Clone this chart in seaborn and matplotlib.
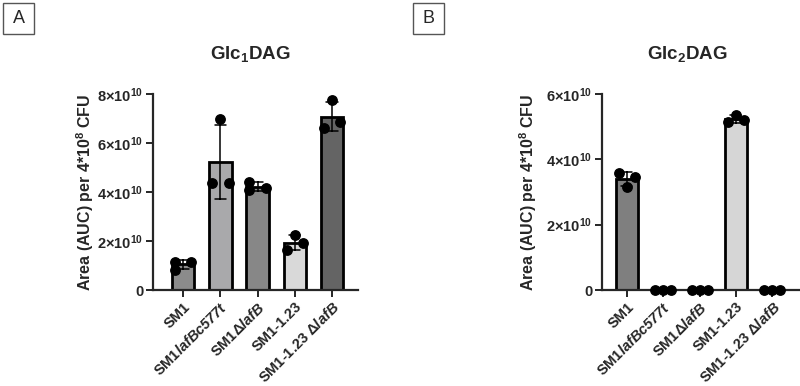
import pandas as pd
import matplotlib
matplotlib.use('Agg')
import matplotlib.pyplot as plt
from matplotlib.patches import Rectangle
import seaborn as sns
import numpy as np

groups = ['SM1', 'SM1lafBc577t', 'SM1ΔlafB', 'SM1-1.23', 'SM1-1.23 ΔlafB']
group_labels = ['SM1', r'SM1$\mathbfit{lafBc577t}$', r'SM1Δ$\mathbfit{lafB}$',
                'SM1-1.23', r'SM1-1.23 Δ$\mathbfit{lafB}$']

# replicate values, units of 1e10 AUC per 4*10^8 CFU
glc1_sm1 = [1.16, 0.82, 1.16]
glc1_c577t = [6.97, 4.35, 4.35]
glc1_dlafb = [4.42, 4.08, 4.15]
glc1_sm123 = [2.24, 1.63, 1.91]
glc1_sm123_dlafb = [7.76, 6.60, 6.87]

glc2_sm1 = [3.57, 3.16, 3.45]
glc2_c577t = [0.0, 0.0, 0.0]
glc2_dlafb = [0.0, 0.0, 0.0]
glc2_sm123 = [5.36, 5.15, 5.20]
glc2_sm123_dlafb = [0.0, 0.0, 0.0]

# where each replicate dot sits inside its bar (-1 left, 0 middle, 1 right)
glc1_slots = [[-1, -1, 1], [0, -1, 1], [-1, -1, 1], [0, -1, 1], [0, -1, 1]]
glc2_slots = [[-1, 0, 1], [-1, 0, 1], [-1, 0, 1], [0, -1, 1], [-1, 0, 1]]

glc1_colors = ['#8b8b8b', '#a9a9ab', '#878787', '#d9d9d9', '#646464']
glc2_colors = ['#7f7f7f', '#a9a9ab', '#878787', '#d6d6d6', '#646464']

glc1_ticks = [0, 2, 4, 6, 8]
glc1_ticklabels = ['0', r'2×10$^{\mathbf{10}}$', r'4×10$^{\mathbf{10}}$',
                   r'6×10$^{\mathbf{10}}$', r'8×10$^{\mathbf{10}}$']
glc2_ticks = [0, 2, 4, 6]
glc2_ticklabels = ['0', r'2×10$^{\mathbf{10}}$', r'4×10$^{\mathbf{10}}$',
                   r'6×10$^{\mathbf{10}}$']

sns.set_style('ticks')
plt.rcParams['font.family'] = ['Liberation Sans', 'DejaVu Sans']
plt.rcParams['font.weight'] = 'bold'
plt.rcParams['mathtext.fontset'] = 'custom'
plt.rcParams['mathtext.rm'] = 'Liberation Sans:bold'
plt.rcParams['mathtext.bf'] = 'Liberation Sans:bold'
plt.rcParams['mathtext.it'] = 'Liberation Sans:italic'
plt.rcParams['mathtext.bfit'] = 'Liberation Sans:bold:italic'


def make_df(values):
    rows = []
    for g, vals in zip(groups, values):
        for v in vals:
            rows.append({'group': g, 'value': v * 1e10})
    return pd.DataFrame(rows)


def draw_panel(ax, values, slots, colors, ticks, ticklabels, xlim):
    df = make_df(values)
    sns.barplot(data=df, x='group', y='value', hue='group', order=groups,
                hue_order=groups, palette=colors, legend=False, ax=ax,
                errorbar='sd', capsize=0.3, width=0.6,
                edgecolor='black', linewidth=2,
                err_kws={'color': 'black', 'linewidth': 1.1})
    for i, (vals, sl) in enumerate(zip(values, slots)):
        xs = i + np.array(sl) * 0.22
        ys = np.array(vals) * 1e10
        ax.scatter(xs, ys, s=46, color='black', zorder=5, clip_on=False)

    ax.set_xlim(*xlim)
    ax.set_ylim(0, ticks[-1] * 1e10)
    ax.set_yticks([t * 1e10 for t in ticks])
    ax.set_yticklabels(ticklabels, fontsize=10.5, fontweight='bold')
    ax.set_xticks(range(len(groups)))
    ax.set_xticklabels(group_labels, rotation=45, ha='right',
                       rotation_mode='anchor', fontsize=10.5, fontweight='bold')
    ax.set_xlabel('')
    ax.set_ylabel(r'Area (AUC) per 4*10$^{\mathbf{8}}$ CFU', fontsize=11.5,
                  fontweight='bold')
    ax.yaxis.label.set_va('center')
    for side in ['top', 'right']:
        ax.spines[side].set_visible(False)
    for side in ['left', 'bottom']:
        ax.spines[side].set_linewidth(1.6)
    ax.tick_params(axis='both', width=1.4, length=5, pad=2)


fig = plt.figure(figsize=(8, 3.86), dpi=100)
ax1 = fig.add_axes([153 / 800, 96 / 386, 205 / 800, 196 / 386])
ax2 = fig.add_axes([602 / 800, 96 / 386, 198 / 800, 196 / 386])

draw_panel(ax1,
           [glc1_sm1, glc1_c577t, glc1_dlafb, glc1_sm123, glc1_sm123_dlafb],
           glc1_slots, glc1_colors, glc1_ticks, glc1_ticklabels, (-0.81, 4.7))
draw_panel(ax2,
           [glc2_sm1, glc2_c577t, glc2_dlafb, glc2_sm123, glc2_sm123_dlafb],
           glc2_slots, glc2_colors, glc2_ticks, glc2_ticklabels, (-0.68, 4.76))

ax1.yaxis.set_label_coords((85 - 153) / 205, 0.5)
ax2.yaxis.set_label_coords((528 - 602) / 198, 0.5)

fig.text(250 / 800, 1 - 54 / 386, r'Glc$_{\mathbf{1}}$DAG', ha='center',
         va='center', fontsize=13.5, fontweight='bold')
fig.text(687 / 800, 1 - 54 / 386, r'Glc$_{\mathbf{2}}$DAG', ha='center',
         va='center', fontsize=13.5, fontweight='bold')

# panel letters in boxes
for x0, letter in [(3, 'A'), (413, 'B')]:
    fig.patches.append(Rectangle((x0 / 800, 1 - 34 / 386), 31 / 800, 31 / 386,
                                 transform=fig.transFigure, fill=False,
                                 edgecolor='#555555', linewidth=1))
    fig.text((x0 + 15.5) / 800, 1 - 18.5 / 386, letter, ha='center',
             va='center', fontsize=13, fontweight='normal')

fig.savefig('out.png', dpi=100)
plt.close(fig)
